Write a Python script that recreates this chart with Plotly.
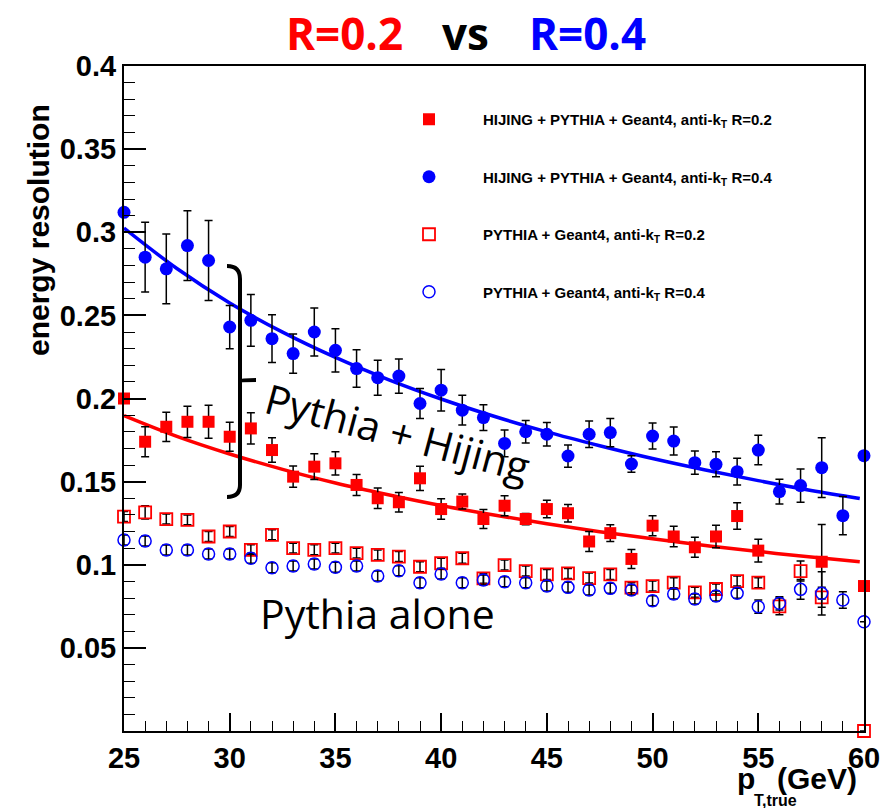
import plotly.graph_objects as go

# ---------------- data ----------------
pt = list(range(25, 61))

# HIJING + PYTHIA + Geant4, anti-kT R=0.2 (filled red squares)
hp_r02 = [0.200, 0.174, 0.183, 0.186, 0.186, 0.177, 0.182, 0.169, 0.153, 0.159,
          0.161, 0.148, 0.140, 0.1376, 0.152, 0.1335, 0.138, 0.1275, 0.1355, 0.1275,
          0.1335, 0.131, 0.114, 0.119, 0.1035, 0.1235, 0.117, 0.1105, 0.117, 0.1293,
          0.1085, None, None, 0.1018, None, 0.0872]
hp_r02_err = [0.0, 0.009, 0.0088, 0.0094, 0.0099, 0.0087, 0.0094, 0.0074, 0.0064, 0.0077,
              0.007, 0.0063, 0.0062, 0.0058, 0.0073, 0.0062, 0.0045, 0.0057, 0.006, 0.0034,
              0.0053, 0.0053, 0.006, 0.005, 0.0057, 0.006, 0.0062, 0.006, 0.0067, 0.008,
              0.0068, None, None, 0.0224, None, 0.0]

# HIJING + PYTHIA + Geant4, anti-kT R=0.4 (filled blue circles)
hp_r04 = [0.312, 0.285, 0.278, 0.292, 0.283, 0.243, 0.247, 0.236, 0.227, 0.240,
          0.229, 0.218, 0.2125, 0.2135, 0.197, 0.205, 0.193, 0.1885, 0.173, 0.180,
          0.1785, 0.1654, 0.1785, 0.1795, 0.1606, 0.1774, 0.1744, 0.1614, 0.1604, 0.156,
          0.169, 0.144, 0.1476, 0.1584, 0.1295, 0.1656]
hp_r04_err = [0.0, 0.021, 0.021, 0.021, 0.024, 0.013, 0.0155, 0.0144, 0.0118, 0.0145,
              0.013, 0.0113, 0.0105, 0.0103, 0.009, 0.0125, 0.009, 0.0078, 0.008, 0.0067,
              0.007, 0.0067, 0.008, 0.0085, 0.005, 0.0078, 0.0084, 0.007, 0.0075, 0.008,
              0.0089, 0.0074, 0.010, 0.018, 0.0115, 0.0]

# PYTHIA + Geant4, anti-kT R=0.2 (open red squares)
py_r02 = [0.129, 0.1315, 0.1275, 0.127, 0.117, 0.120, 0.109, 0.118, 0.110, 0.109,
          0.110, 0.107, 0.1059, 0.1049, 0.0988, 0.1009, 0.1039, 0.0918, 0.0998, 0.0962,
          0.0942, 0.0948, 0.0920, 0.0942, 0.0862, 0.0872, 0.0892, 0.0834, 0.0854, 0.0902,
          0.0892, 0.0750, 0.0962, 0.0804, None, 0.0]
py_r02_err = [0.003, 0.004, 0.003, 0.003, 0.003, 0.003, 0.003, 0.003, 0.003, 0.003,
              0.003, 0.003, 0.003, 0.003, 0.003, 0.003, 0.003, 0.003, 0.003, 0.003,
              0.003, 0.003, 0.003, 0.003, 0.003, 0.003, 0.003, 0.003, 0.003, 0.003,
              0.003, 0.005, 0.006, 0.006, None, 0.0]

# PYTHIA + Geant4, anti-kT R=0.4 (open blue circles)
py_r04 = [0.1149, 0.1143, 0.1089, 0.1089, 0.1065, 0.1065, 0.1039, 0.0982, 0.0992, 0.1005,
          0.0985, 0.0992, 0.0932, 0.0964, 0.0892, 0.0944, 0.0892, 0.0908, 0.0898, 0.0892,
          0.0872, 0.0864, 0.0848, 0.0858, 0.0848, 0.0784, 0.0824, 0.0794, 0.0812, 0.0828,
          0.0748, 0.0768, 0.0852, 0.0828, 0.0788, 0.0657]
py_r04_err = [0.003, 0.003, 0.003, 0.003, 0.003, 0.003, 0.003, 0.003, 0.003, 0.003,
              0.003, 0.003, 0.003, 0.003, 0.003, 0.003, 0.003, 0.003, 0.003, 0.003,
              0.003, 0.003, 0.003, 0.003, 0.003, 0.003, 0.003, 0.003, 0.003, 0.003,
              0.004, 0.004, 0.006, 0.013, 0.005, 0.0]

# fitted curves
fit_x = [25, 27.5, 30, 32.5, 35, 37.5, 40, 42.5, 45, 47.5, 50, 52.5, 55, 57.5, 59.8]
fit_r04 = [0.3025, 0.2782, 0.2575, 0.2399, 0.2247, 0.2114, 0.1997, 0.1893, 0.1799,
           0.1716, 0.1639, 0.1570, 0.1506, 0.1447, 0.1399]
fit_r02 = [0.1897, 0.1772, 0.1666, 0.1574, 0.1492, 0.1421, 0.1356, 0.1299, 0.1247,
           0.1199, 0.1156, 0.1116, 0.1080, 0.1046, 0.1018]

legend_names = [
    "HIJING + PYTHIA + Geant4, anti-k<sub>T</sub> R=0.2",
    "HIJING + PYTHIA + Geant4, anti-k<sub>T</sub> R=0.4",
    "PYTHIA + Geant4, anti-k<sub>T</sub> R=0.2",
    "PYTHIA + Geant4, anti-k<sub>T</sub> R=0.4",
]

y_tickvals = [0.05, 0.1, 0.15, 0.2, 0.25, 0.3, 0.35, 0.4]
y_ticktext = ["0.05", "0.1", "0.15", "0.2", "0.25", "0.3", "0.35", "0.4"]
x_tickvals = [25, 30, 35, 40, 45, 50, 55, 60]

RED = "#ff0000"
BLUE = "#0000ff"

# plot area in pixels
W, H = 892, 808
L, R, T, B = 124, 864, 66, 731


def px(x):
    return (x - L) / (R - L)


def py(y):
    return (B - y) / (B - T)


fig = go.Figure()

# fit lines
fig.add_trace(go.Scatter(x=fit_x, y=fit_r04, mode="lines", line=dict(color=BLUE, width=3.5, shape="spline"),
                         showlegend=False, hoverinfo="skip"))
fig.add_trace(go.Scatter(x=fit_x, y=fit_r02, mode="lines", line=dict(color=RED, width=3.5, shape="spline"),
                         showlegend=False, hoverinfo="skip"))

eb = dict(type="data", color="black", thickness=1.5, width=4)

fig.add_trace(go.Scatter(x=pt, y=hp_r02, mode="markers", name=legend_names[0], legendgroup="a",
                         marker=dict(symbol="square", size=12, color=RED),
                         error_y=dict(array=hp_r02_err, **eb), cliponaxis=False))
fig.add_trace(go.Scatter(x=pt, y=hp_r04, mode="markers", name=legend_names[1], legendgroup="b",
                         marker=dict(symbol="circle", size=13, color=BLUE),
                         error_y=dict(array=hp_r04_err, **eb), cliponaxis=False))
fig.add_trace(go.Scatter(x=pt, y=py_r02, mode="markers", name=legend_names[2], legendgroup="c",
                         marker=dict(symbol="square-open", size=12, color=RED, line=dict(width=1.8)),
                         error_y=dict(array=py_r02_err, **eb), cliponaxis=False))
fig.add_trace(go.Scatter(x=pt, y=py_r04, mode="markers", name=legend_names[3], legendgroup="d",
                         marker=dict(symbol="circle-open", size=12, color=BLUE, line=dict(width=1.5)),
                         error_y=dict(array=py_r04_err, **eb), cliponaxis=False))

tickfont = dict(family="Liberation Sans, Arial", size=29, color="black", weight="bold")

fig.update_xaxes(range=[25, 60], tickvals=x_tickvals, ticks="inside", ticklen=18, tickwidth=1.5,
                 tickcolor="black", showline=True, linecolor="black", linewidth=2, mirror=True,
                 showgrid=False, zeroline=False, tickfont=tickfont,
                 minor=dict(dtick=1, ticks="inside", ticklen=10, tickcolor="black", tickwidth=1.2, showgrid=False))
fig.update_yaxes(range=[0, 0.4], tickvals=y_tickvals, ticktext=y_ticktext, ticks="inside", ticklen=22,
                 tickwidth=1.5, tickcolor="black", showline=True, linecolor="black", linewidth=2, mirror=True,
                 showgrid=False, zeroline=False, tickfont=tickfont,
                 minor=dict(dtick=0.01, ticks="inside", ticklen=11, tickcolor="black", tickwidth=1.2, showgrid=False))

title_font = dict(family="Open Sans", size=44, weight="bold")
axis_font = dict(family="Liberation Sans, Arial", color="black", weight="bold")
annotations = [
    dict(text="R=0.2", x=px(344), y=py(1), xref="paper", yref="paper", showarrow=False,
         font=dict(color=RED, **title_font), xanchor="center", yanchor="top"),
    dict(text="vs", x=px(465), y=py(1), xref="paper", yref="paper", showarrow=False,
         font=dict(color="black", **title_font), xanchor="center", yanchor="top"),
    dict(text="R=0.4", x=px(587), y=py(1), xref="paper", yref="paper", showarrow=False,
         font=dict(color=BLUE, **title_font), xanchor="center", yanchor="top"),
    dict(text="energy resolution", x=px(38), y=py(230), xref="paper", yref="paper", showarrow=False,
         textangle=-90, font=dict(size=30, **axis_font),
         xanchor="center", yanchor="middle"),
    # x axis title: p_{T,true} (GeV)
    dict(text="p", x=px(746), y=py(779), xref="paper", yref="paper", showarrow=False,
         font=dict(size=30, **axis_font), xanchor="center", yanchor="middle"),
    dict(text="T,true", x=px(752), y=py(800), xref="paper", yref="paper", showarrow=False,
         font=dict(size=16, **axis_font), xanchor="left", yanchor="middle"),
    dict(text="(GeV)", x=px(859), y=py(778), xref="paper", yref="paper", showarrow=False,
         font=dict(size=30, **axis_font), xanchor="right", yanchor="middle"),
    dict(text="Pythia + Hijing", x=px(398), y=py(432), xref="paper", yref="paper", showarrow=False,
         textangle=15, font=dict(family="Open Sans", size=41, color="black"),
         xanchor="center", yanchor="middle"),
    dict(text="Pythia alone", x=px(377), y=py(613), xref="paper", yref="paper", showarrow=False,
         font=dict(family="Open Sans", size=41, color="black"),
         xanchor="center", yanchor="middle"),
]


def P(x, y):
    return f"{px(x):.5f},{py(y):.5f}"


bracket = (f"M{P(227,266)} Q{P(240,266)} {P(240,279)} L{P(240,485)} Q{P(240,497)} {P(227,497)} "
           f"M{P(240,381)} Q{P(241,380)} {P(256,380)}")

fig.update_layout(
    width=W, height=H,
    margin=dict(l=L, r=W - R, t=T, b=H - B),
    plot_bgcolor="white", paper_bgcolor="white",
    annotations=annotations,
    shapes=[dict(type="path", path=bracket, xref="paper", yref="paper",
                 line=dict(color="black", width=4))],
    legend=dict(x=px(375), y=py(103), xanchor="left", yanchor="top", bgcolor="rgba(0,0,0,0)",
                font=dict(family="Liberation Sans, Arial", size=15, color="black", weight="bold"),
                tracegroupgap=35, itemwidth=98),
    showlegend=True,
)

fig.write_html("out.html")
